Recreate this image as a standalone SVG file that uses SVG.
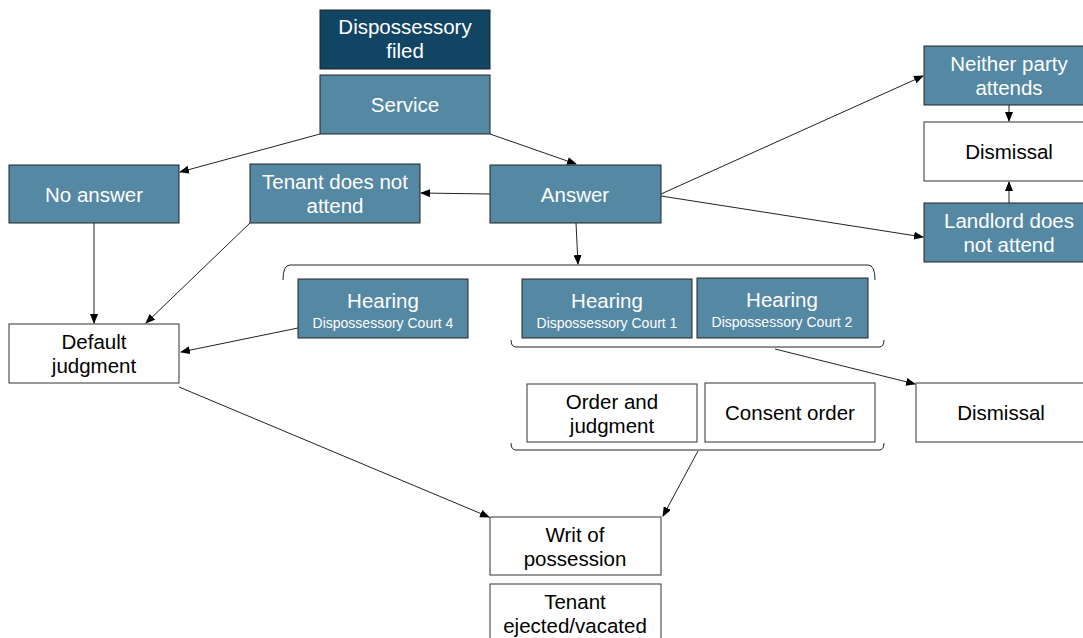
<svg xmlns="http://www.w3.org/2000/svg" width="1083" height="638" viewBox="0 0 1083 638">
<defs>
<marker id="arr" markerWidth="10" markerHeight="8" refX="9" refY="4" orient="auto" markerUnits="userSpaceOnUse">
<path d="M0,0 L10,4 L0,8 Z" fill="#000"/>
</marker>
<style>
.dark{fill:#124563;stroke:#222;stroke-width:1}
.blue{fill:#5588a3;stroke:#222;stroke-width:1}
.white{fill:#fff;stroke:#333;stroke-width:1}
.tw{fill:#fff;font-family:"Liberation Sans",Arial,sans-serif;font-size:20.5px;text-anchor:middle}
.tb{fill:#000;font-family:"Liberation Sans",Arial,sans-serif;font-size:20.5px;text-anchor:middle}
.ts{fill:#fff;font-family:"Liberation Sans",Arial,sans-serif;font-size:14px;text-anchor:middle}
.c{stroke:#222;stroke-width:1;fill:none}
.ca{stroke:#222;stroke-width:1;fill:none;marker-end:url(#arr)}
</style>
</defs>
<rect width="1083" height="638" fill="#fff"/>

<g id="connectors">
<line class="ca" x1="320" y1="134" x2="180" y2="172"/>
<line class="ca" x1="490" y1="134" x2="576" y2="164"/>
<line class="ca" x1="490" y1="194" x2="421" y2="193"/>
<line class="ca" x1="661" y1="194" x2="923" y2="76"/>
<line class="ca" x1="661" y1="196" x2="923" y2="237"/>
<line class="ca" x1="576" y1="223" x2="578" y2="264"/>
<line class="ca" x1="94" y1="223" x2="94" y2="323"/>
<line class="ca" x1="250" y1="223" x2="146" y2="323"/>
<line class="ca" x1="298" y1="328" x2="181" y2="352"/>
<line class="ca" x1="775" y1="349" x2="915" y2="384"/>
<line class="ca" x1="1009" y1="105" x2="1009" y2="121"/>
<line class="ca" x1="1009" y1="203" x2="1009" y2="182"/>
<line class="ca" x1="179" y1="387" x2="489" y2="517"/>
<line class="ca" x1="698" y1="451" x2="663" y2="516"/>
<path class="c" d="M283,280 Q283,265 290,265 L868,265 Q875,265 875,280"/>
<path class="c" d="M511,340 Q511,347 516,347 L879,347 Q884,347 884,340"/>
<path class="c" d="M511,443 Q511,450 516,450 L879,450 Q884,450 884,443"/>
</g>

<g id="dispossessory-filed">
<rect class="dark" x="320" y="10" width="170" height="59"/>
<text class="tw" x="405" y="34">Dispossessory</text>
<text class="tw" x="405" y="58">filed</text>
</g>
<g id="service">
<rect class="blue" x="320" y="75" width="170" height="59"/>
<text class="tw" x="405" y="112">Service</text>
</g>
<g id="no-answer">
<rect class="blue" x="9" y="165" width="170" height="58"/>
<text class="tw" x="94" y="202">No answer</text>
</g>
<g id="tenant-does-not-attend">
<rect class="blue" x="250" y="164" width="170" height="59"/>
<text class="tw" x="335" y="189">Tenant does not</text>
<text class="tw" x="335" y="213">attend</text>
</g>
<g id="answer">
<rect class="blue" x="490" y="165" width="171" height="58"/>
<text class="tw" x="575" y="202">Answer</text>
</g>
<g id="neither-party-attends">
<rect class="blue" x="924" y="46" width="170" height="59"/>
<text class="tw" x="1009" y="71">Neither party</text>
<text class="tw" x="1009" y="95">attends</text>
</g>
<g id="dismissal-top">
<rect class="white" x="924" y="122" width="170" height="59"/>
<text class="tb" x="1009" y="159">Dismissal</text>
</g>
<g id="landlord-does-not-attend">
<rect class="blue" x="924" y="203" width="170" height="59"/>
<text class="tw" x="1009" y="228">Landlord does</text>
<text class="tw" x="1009" y="252">not attend</text>
</g>
<g id="default-judgment">
<rect class="white" x="9" y="324" width="170" height="59"/>
<text class="tb" x="94" y="349">Default</text>
<text class="tb" x="94" y="373">judgment</text>
</g>
<g id="hearing-court-4">
<rect class="blue" x="298" y="279" width="170" height="59"/>
<text class="tw" x="383" y="308">Hearing</text>
<text class="ts" x="383" y="328">Dispossessory Court 4</text>
</g>
<g id="hearing-court-1">
<rect class="blue" x="522" y="279" width="170" height="59"/>
<text class="tw" x="607" y="308">Hearing</text>
<text class="ts" x="607" y="328">Dispossessory Court 1</text>
</g>
<g id="hearing-court-2">
<rect class="blue" x="697" y="278" width="171" height="60"/>
<text class="tw" x="782" y="307">Hearing</text>
<text class="ts" x="782" y="327">Dispossessory Court 2</text>
</g>
<g id="dismissal-middle">
<rect class="white" x="916" y="383" width="170" height="59"/>
<text class="tb" x="1001" y="420">Dismissal</text>
</g>
<g id="order-and-judgment">
<rect class="white" x="527" y="384" width="170" height="58"/>
<text class="tb" x="612" y="409">Order and</text>
<text class="tb" x="612" y="433">judgment</text>
</g>
<g id="consent-order">
<rect class="white" x="705" y="383" width="170" height="59"/>
<text class="tb" x="790" y="420">Consent order</text>
</g>
<g id="writ-of-possession">
<rect class="white" x="490" y="517" width="171" height="58"/>
<text class="tb" x="575" y="542">Writ of</text>
<text class="tb" x="575" y="566">possession</text>
</g>
<g id="tenant-ejected">
<rect class="white" x="490" y="584" width="171" height="60"/>
<text class="tb" x="575" y="609">Tenant</text>
<text class="tb" x="575" y="633">ejected/vacated</text>
</g>
</svg>
